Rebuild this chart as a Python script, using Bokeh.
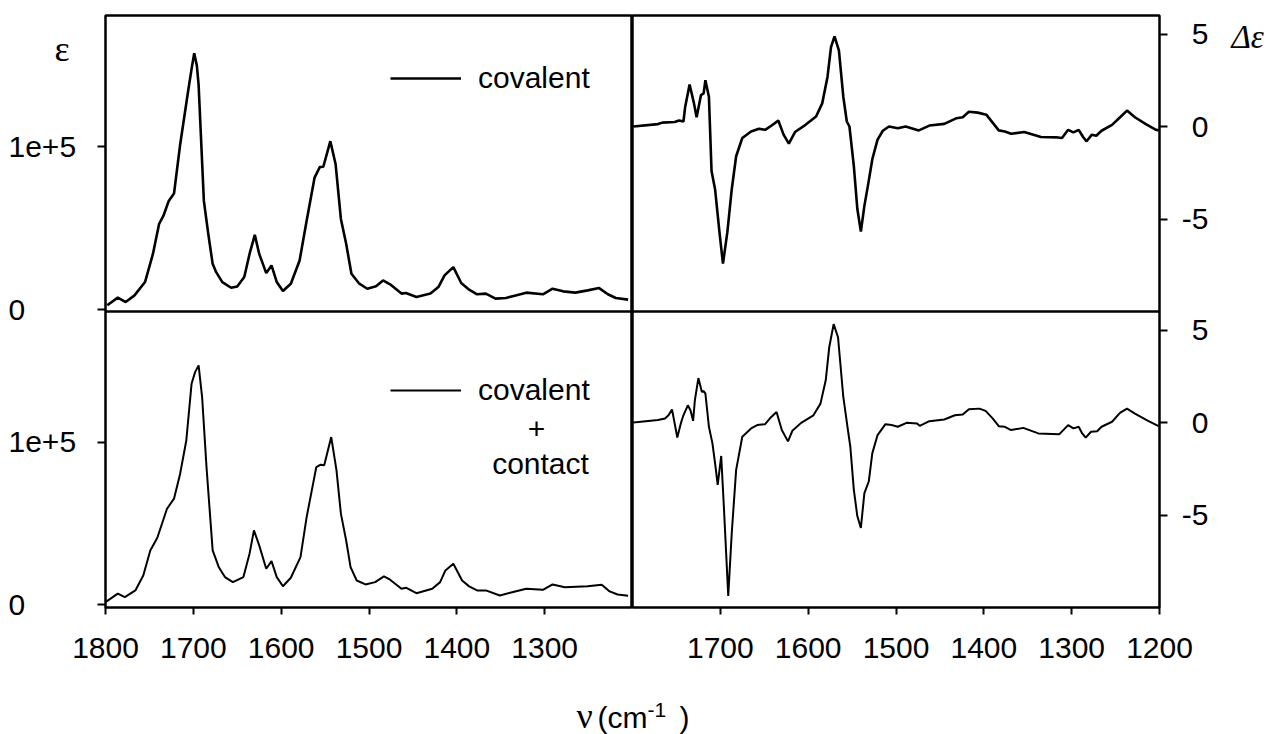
from bokeh.plotting import figure
from bokeh.models import Range1d, FixedTicker, Span, Legend, LegendItem, Label
from bokeh.layouts import column, row
from bokeh.core.properties import value
from bokeh.embed import file_html
from bokeh.resources import INLINE

# ---------------- data ----------------
# absorption, covalent (top-left)
nu_eps_cov = [1798, 1786, 1777, 1767, 1755, 1746, 1739, 1734, 1728, 1722, 1715, 1706, 1702, 1699,
              1696, 1694, 1688, 1683, 1678, 1674, 1667, 1657, 1650, 1642, 1636, 1630, 1625, 1617,
              1611, 1605, 1598, 1589, 1579, 1571, 1562, 1556, 1552, 1544, 1538, 1532, 1526, 1520,
              1511, 1502, 1492, 1484, 1476, 1463, 1458, 1446, 1430, 1421, 1414, 1404, 1395, 1386,
              1377, 1367, 1356, 1344, 1333, 1321, 1302, 1291, 1279, 1265, 1251, 1238, 1228, 1219, 1205]
eps_cov = [2600, 7300, 4600, 8700, 16900, 34200, 52600, 57700, 66800, 71300, 101500, 134100, 148000, 157600,
           150000, 138200, 66800, 46500, 28100, 23000, 16900, 13400, 14200, 20000, 34200, 45900, 34200, 22400,
           27100, 16900, 11400, 15900, 30200, 54600, 81100, 87600, 87800, 103500, 89300, 55700, 40400, 22000,
           15900, 12800, 14300, 17900, 15500, 9800, 10200, 7700, 9800, 13800, 21000, 26100, 16300, 12200,
           9400, 9800, 6700, 7100, 8700, 10400, 9400, 12800, 11200, 10400, 11800, 13200, 9400, 7100, 6100]

# absorption, covalent + contact (bottom-left)
nu_eps_cc = [1800, 1786, 1778, 1766, 1757, 1749, 1741, 1730, 1722, 1715, 1708, 1702, 1698, 1694,
             1690, 1685, 1678, 1671, 1664, 1655, 1643, 1636, 1631, 1625, 1617, 1611, 1605, 1598,
             1589, 1578, 1571, 1560, 1555, 1551, 1543, 1537, 1532, 1526, 1521, 1514, 1504, 1493,
             1483, 1476, 1463, 1458, 1446, 1428, 1419, 1413, 1404, 1394, 1386, 1377, 1367, 1351,
             1337, 1321, 1302, 1291, 1277, 1251, 1235, 1226, 1217, 1205]
eps_cc = [1600, 6800, 4700, 8800, 18000, 33400, 41200, 59000, 65200, 80600, 101000, 135900, 143000, 147200,
          127700, 84600, 33400, 23100, 17000, 13900, 17000, 31400, 45700, 36500, 22100, 26800, 17000, 11400,
          16600, 29300, 53900, 84600, 86100, 85700, 103100, 82600, 56000, 39500, 23100, 14900, 12500, 13900,
          17400, 15400, 9800, 10500, 7100, 9800, 13900, 21100, 25200, 14900, 11300, 8800, 8800, 5700,
          7700, 9800, 9200, 12500, 10800, 11300, 12300, 8200, 6300, 5500]

# CD, covalent (top-right)
nu_de_cov = [1799, 1771, 1766, 1752, 1747, 1742, 1740, 1735, 1730, 1727, 1722, 1719, 1717, 1713,
             1710, 1706, 1701, 1697, 1692, 1687, 1682, 1675, 1665, 1656, 1649, 1642, 1634, 1628,
             1622, 1615, 1603, 1591, 1584, 1578, 1574, 1570, 1565, 1560, 1556, 1553, 1548, 1544,
             1540, 1536, 1532, 1527, 1521, 1515, 1508, 1498, 1489, 1474, 1462, 1445, 1431, 1424,
             1417, 1407, 1397, 1390, 1383, 1376, 1369, 1354, 1335, 1316, 1311, 1304, 1298, 1292,
             1287, 1283, 1277, 1272, 1266, 1254, 1244, 1237, 1228, 1216, 1204, 1201]
de_cov = [0.0, 0.13, 0.21, 0.24, 0.32, 0.27, 1.07, 2.27, 1.25, 0.50, 1.70, 1.79, 2.50, 1.61,
          -2.41, -3.39, -5.71, -7.41, -5.71, -3.39, -1.61, -0.62, -0.27, -0.12, -0.18, 0.04, 0.32, -0.44,
          -0.93, -0.30, 0.09, 0.54, 1.25, 2.68, 4.29, 4.87, 4.11, 1.61, 0.27, 0.0, -2.14, -4.46,
          -5.68, -4.29, -3.21, -1.78, -0.71, -0.23, 0.0, -0.09, 0.0, -0.21, 0.05, 0.14, 0.45, 0.50,
          0.80, 0.75, 0.63, 0.21, -0.21, -0.27, -0.39, -0.30, -0.57, -0.59, -0.62, -0.18, -0.32, -0.18,
          -0.57, -0.80, -0.44, -0.50, -0.23, 0.09, 0.54, 0.86, 0.50, 0.14, -0.18, -0.21]

# CD, covalent + contact (bottom-right)
nu_de_cc = [1799, 1771, 1763, 1759, 1755, 1752, 1749, 1745, 1742, 1737, 1734, 1731, 1729, 1725,
            1721, 1719, 1717, 1713, 1709, 1706, 1703, 1699, 1696, 1691, 1687, 1682, 1675, 1665,
            1658, 1649, 1642, 1636, 1630, 1623, 1618, 1608, 1594, 1586, 1580, 1576, 1571, 1566,
            1560, 1555, 1552, 1548, 1544, 1540, 1536, 1531, 1527, 1521, 1512, 1505, 1498, 1488,
            1476, 1473, 1462, 1445, 1433, 1424, 1417, 1405, 1398, 1390, 1383, 1376, 1369, 1355,
            1338, 1314, 1304, 1298, 1292, 1288, 1284, 1278, 1271, 1266, 1254, 1245, 1237, 1228,
            1213, 1201]
de_cc = [0.0, 0.13, 0.22, 0.39, 0.70, -0.05, -0.81, -0.05, 0.39, 0.93, 0.66, 0.09, 1.20, 2.40,
         1.65, 1.70, 1.56, -0.23, -1.13, -2.20, -3.37, -1.81, -4.53, -9.37, -5.97, -2.56, -0.77, -0.32,
         -0.14, -0.09, 0.30, 0.57, -0.41, -1.02, -0.45, -0.02, 0.39, 1.02, 2.28, 4.07, 5.32, 4.61,
         1.38, -0.32, -1.31, -3.64, -5.07, -5.70, -3.82, -3.19, -1.67, -0.68, -0.09, -0.14, -0.23, -0.02,
         -0.05, -0.18, 0.07, 0.16, 0.39, 0.43, 0.72, 0.75, 0.63, 0.22, -0.20, -0.23, -0.41, -0.29,
         -0.59, -0.63, -0.14, -0.32, -0.23, -0.59, -0.82, -0.50, -0.47, -0.23, 0.04, 0.52, 0.75, 0.48,
         0.09, -0.20]

x_ticks_left = [1800, 1700, 1600, 1500, 1400, 1300]
x_ticks_right = [1700, 1600, 1500, 1400, 1300, 1200]
eps_ticks = [0, 100000]
eps_tick_labels = ["0", "1e+5"]
de_ticks = [-5, 0, 5]
de_tick_labels = ["-5", "0", "5"]
legend_top = "covalent"
legend_bottom = ["covalent", "+", "contact"]

# per-panel value ranges
eps_top_rng = (-1200, 180800)
eps_bot_rng = (-1700, 180300)
de_top_rng = (-10, 6)
de_bot_rng = (-10, 6)
nu_rng = (1800, 1200)

assert len(nu_eps_cov) == len(eps_cov)
assert len(nu_eps_cc) == len(eps_cc)
assert len(nu_de_cov) == len(de_cov)
assert len(nu_de_cc) == len(de_cc)

SANS = "Liberation Sans"
SERIF = "Liberation Serif"
FS = "30px"

W, H = 1279, 734
FRAME_W, FRAME_H = 527, 592
TOP_B, BOT_B = 15, 16              # panel borders above / below the frames (below: x ticks)
FIG_H = TOP_B + FRAME_H + BOT_B
AX_H = 58                          # x tick-label row
STRIP_H = H - FIG_H - AX_H         # x-axis title row
LEFT_M, LEFT_B = 95, 10            # left label strip width, left plot border (ticks only)
RIGHT_B = 10
RIGHT_M = W - LEFT_M - LEFT_B - 2 * FRAME_W - RIGHT_B
FRAME_L = LEFT_M + LEFT_B          # page x of the left frame edge
FRAME_BOTTOM = TOP_B + FRAME_H     # page y of the lower frame edge


def stacked(bot, top):
    """default range shows the bottom panel in the lower half, extra range the top panel in the upper half"""
    sb = bot[1] - bot[0]
    st = top[1] - top[0]
    return Range1d(bot[0], bot[1] + sb), Range1d(top[0] - st, top[1])


def blank_fig(width, height, x_range, y_range):
    f = figure(width=width, height=height, x_range=x_range, y_range=y_range,
               min_border=0, x_axis_type=None, y_axis_type=None, outline_line_color=None,
               toolbar_location=None, output_backend="svg", frame_align=False,
               background_fill_color="white", border_fill_color="white")
    f.xgrid.visible = False
    f.ygrid.visible = False
    return f


def ticks_only(ax, ticks, out):
    ax.ticker = FixedTicker(ticks=ticks)
    ax.major_label_overrides = {t: "" for t in ticks}
    ax.major_label_text_font_size = "1px"
    ax.major_label_standoff = 0
    ax.axis_line_color = None
    ax.minor_tick_line_color = None
    ax.major_tick_in = 0
    ax.major_tick_out = out
    ax.major_tick_line_width = 2
    ax.major_tick_line_color = "black"


def panel_fig(y_default, y_upper, left_b, right_b, yloc):
    p = figure(x_range=Range1d(*nu_rng), y_range=y_default,
               frame_width=FRAME_W, frame_height=FRAME_H,
               min_border_left=left_b, min_border_right=right_b,
               min_border_top=TOP_B, min_border_bottom=BOT_B,
               y_axis_location=yloc, toolbar_location=None, output_backend="svg",
               background_fill_color="white", border_fill_color="white",
               outline_line_color="black", outline_line_width=2.5)
    p.extra_y_ranges = {"top": y_upper}
    p.xgrid.visible = False
    p.ygrid.visible = False
    return p


def xlabel_fig(x_range, ticks, left_b, right_b):
    a = figure(x_range=x_range, y_range=Range1d(0, 1), frame_width=FRAME_W, frame_height=1,
               min_border_left=left_b, min_border_right=right_b,
               min_border_top=0, min_border_bottom=AX_H - 1,
               y_axis_location=None, toolbar_location=None, output_backend="svg",
               outline_line_color=None, background_fill_color="white", border_fill_color="white")
    a.xgrid.visible = False
    a.ygrid.visible = False
    ax = a.xaxis[0]
    ax.ticker = FixedTicker(ticks=ticks)
    ax.axis_line_color = None
    ax.minor_tick_line_color = None
    ax.major_tick_line_color = None
    ax.major_tick_in = 0
    ax.major_tick_out = 0
    ax.major_label_standoff = FRAME_BOTTOM + 30 - (FIG_H + 1)
    ax.major_label_text_font = SANS
    ax.major_label_text_font_size = FS
    ax.major_label_text_color = "black"
    return a


def margin_fig(width, y_default, y_upper):
    """side strip that carries the y tick labels with the plot's value-to-pixel mapping"""
    k = (y_default.end - y_default.start) / FRAME_H
    ku = (y_upper.end - y_upper.start) / FRAME_H
    m = blank_fig(width, FIG_H, Range1d(0, width),
                  Range1d(y_default.start - BOT_B * k, y_default.end + TOP_B * k))
    m.extra_y_ranges = {"top": Range1d(y_upper.start - BOT_B * ku, y_upper.end + TOP_B * ku)}
    return m


def text(fig, x, y, txt, align="left", font=SANS, size=FS, style="normal", **kw):
    fig.add_layout(Label(x=x, y=y, text=txt, text_font=font, text_font_size=size,
                         text_font_style=style, text_color="black",
                         text_align=align, text_baseline="middle", **kw))


def make_legend(renderer, loc):
    return Legend(items=[LegendItem(label=value(legend_top), renderers=[renderer])],
                  location=loc, orientation="vertical", padding=0, margin=0,
                  glyph_width=71, glyph_height=20, label_standoff=17,
                  label_text_font=SANS, label_text_font_size=FS, label_text_color="black",
                  border_line_color=None, background_fill_alpha=0)


# ---------------- left column: absorption ----------------
ldef, lup = stacked(eps_bot_rng, eps_top_rng)
pl = panel_fig(ldef, lup, LEFT_B, 0, "left")
ticks_only(pl.xaxis[0], x_ticks_left, 7)
ticks_only(pl.yaxis[0], list(eps_ticks) + [eps_bot_rng[1] + (v - eps_top_rng[0]) for v in eps_ticks], 8)

r_top_l = pl.line(nu_eps_cov, eps_cov, y_range_name="top", line_color="black", line_width=2.6)
r_bot_l = pl.line(nu_eps_cc, eps_cc, line_color="black", line_width=2.0)
pl.add_layout(Span(location=eps_bot_rng[1], dimension="width", line_color="black", line_width=2.5))
pl.add_layout(make_legend(r_top_l, (285, 512)), "center")
pl.add_layout(make_legend(r_bot_l, (285, 200)), "center")
text(pl, 431, 179, legend_bottom[1], align="center", x_units="screen", y_units="screen")
text(pl, 435, 144, legend_bottom[2], align="center", x_units="screen", y_units="screen")

ml = margin_fig(LEFT_M, ldef, lup)
for v, lab in zip(eps_ticks, eps_tick_labels):
    text(ml, 8, v, lab, y_range_name="top")
    text(ml, 8, v, lab)
text(ml, 54, FIG_H - 48, "ε", font=SERIF, size="36px", y_units="screen")

# ---------------- right column: CD ----------------
rdef, rup = stacked(de_bot_rng, de_top_rng)
pr = panel_fig(rdef, rup, 0, RIGHT_B, "right")
ticks_only(pr.xaxis[0], x_ticks_right, 7)
ticks_only(pr.yaxis[0], list(de_ticks) + [de_bot_rng[1] + (v - de_top_rng[0]) for v in de_ticks], 8)

pr.line(nu_de_cov, de_cov, y_range_name="top", line_color="black", line_width=2.6)
pr.line(nu_de_cc, de_cc, line_color="black", line_width=2.0)
pr.add_layout(Span(location=de_bot_rng[1], dimension="width", line_color="black", line_width=2.5))

mr = margin_fig(RIGHT_M, rdef, rup)
mr_x0 = W - RIGHT_M
for v, lab in zip(de_ticks, de_tick_labels):
    text(mr, 1208 - mr_x0, v, lab, align="right", y_range_name="top")
    text(mr, 1208 - mr_x0, v, lab, align="right")
text(mr, 1231 - mr_x0, FIG_H - 36, "Δε", font=SERIF, size="33px", style="italic", y_units="screen")

# ---------------- x tick labels ----------------
axl = xlabel_fig(pl.x_range, x_ticks_left, FRAME_L, 0)
axr = xlabel_fig(pr.x_range, x_ticks_right, 0, W - FRAME_L - 2 * FRAME_W)

# ---------------- x-axis title ----------------
strip = blank_fig(W, STRIP_H, Range1d(0, W), Range1d(0, STRIP_H))
y0 = H - STRIP_H                     # page y of the strip's top edge
text(strip, 576, STRIP_H - (715 - y0), "ν", font=SERIF, size="36px")
text(strip, 597, STRIP_H - (717 - y0), "(cm")
text(strip, 647, STRIP_H - (709 - y0), "-1", size="21px")
text(strip, 679, STRIP_H - (717 - y0), ")")

layout = column(row(ml, pl, pr, mr, spacing=0), row(axl, axr, spacing=0), strip, spacing=0)
open("out.html", "w").write(file_html(layout, INLINE))
